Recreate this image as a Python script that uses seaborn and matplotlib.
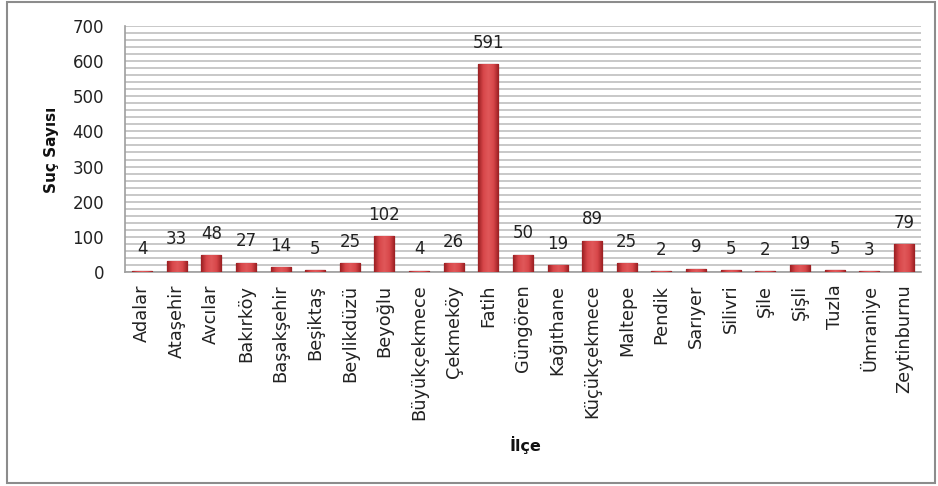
import numpy as np
import pandas as pd
import matplotlib.pyplot as plt
import seaborn as sns
from matplotlib.patches import Rectangle
from matplotlib.colors import LinearSegmentedColormap

# Data
districts = ['Adalar', 'Ataşehir', 'Avcılar', 'Bakırköy', 'Başakşehir', 'Beşiktaş',
             'Beylikdüzü', 'Beyoğlu', 'Büyükçekmece', 'Çekmeköy', 'Fatih', 'Güngören',
             'Kağıthane', 'Küçükçekmece', 'Maltepe', 'Pendik', 'Sarıyer', 'Silivri',
             'Şile', 'Şişli', 'Tuzla', 'Ümraniye', 'Zeytinburnu']
crime_counts = [4, 33, 48, 27, 14, 5, 25, 102, 4, 26, 591, 50, 19, 89, 25, 2, 9, 5, 2, 19, 5, 3, 79]

df = pd.DataFrame({'ilce': districts, 'suc': crime_counts})

sns.set_style('white')
plt.rcParams['font.family'] = ['DejaVu Sans']

fig = plt.figure(figsize=(9.38, 4.86), dpi=100)
ax = fig.add_axes([0.133, 0.44, 0.849, 0.507])

sns.barplot(data=df, x='ilce', y='suc', color='#C42E31', width=0.58,
            edgecolor='#7E1619', linewidth=0.9, saturation=1, ax=ax, zorder=3)

# shaded look of the bars (dark edges, light middle)
shade = LinearSegmentedColormap.from_list('shade', ['#9A1E21', '#D8474A', '#E0585A', '#D8474A', '#9A1E21'])
grad = np.linspace(0, 1, 64).reshape(1, -1)
for bar in list(ax.patches):
    x0, y0 = bar.get_x(), bar.get_y()
    w, h = bar.get_width(), bar.get_height()
    im = ax.imshow(grad, cmap=shade, extent=[x0, x0 + w, y0, y0 + h],
                   aspect='auto', zorder=3.2, interpolation='bicubic')
    im.set_clip_path(bar)

# value labels above bars
for i, v in enumerate(crime_counts):
    ax.annotate(str(v), (i, v), xytext=(0, 9), textcoords='offset points',
                ha='center', va='bottom', fontsize=12, color='#222222')

ax.set_ylim(0, 700)
ax.set_xlim(-0.5, len(districts) - 0.5)
ax.set_yticks(range(0, 701, 100))
ax.set_yticks(range(0, 701, 20), minor=True)
ax.grid(axis='y', which='both', color='#C4C4C4', linewidth=1.3, zorder=0)
ax.set_axisbelow(True)

ax.tick_params(axis='y', labelsize=12, length=0, pad=15, colors='#222222')
ax.tick_params(axis='x', labelsize=12.8, length=0, pad=9, colors='#222222', rotation=90)

for side in ['top', 'right']:
    ax.spines[side].set_visible(False)
for side in ['left', 'bottom']:
    ax.spines[side].set_color('#9E9E9E')
    ax.spines[side].set_linewidth(1.2)

ax.set_xlabel('')
ax.set_ylabel('')
fig.text(525 / 938, 1 - 445 / 486, 'İlçe', fontsize=11.5, fontweight='bold',
         ha='center', va='center', color='#111111')
fig.text(51 / 938, 1 - 150 / 486, 'Suç Sayısı', fontsize=11, fontweight='bold',
         rotation=90, ha='center', va='center', color='#111111')

# outer border around the chart
fig.patches.append(Rectangle((0.0075, 0.006), 0.989, 0.99, transform=fig.transFigure,
                             fill=False, edgecolor='#8C8C8C', linewidth=1.5))

fig.savefig('out.png', dpi=100)
